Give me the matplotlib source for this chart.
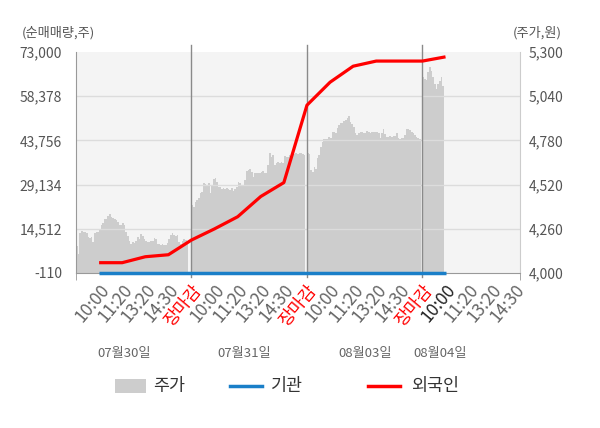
import numpy as np
import matplotlib
matplotlib.use("Agg")
import matplotlib.pyplot as plt
from matplotlib.lines import Line2D
from matplotlib.patches import Rectangle

plt.rcParams['font.family'] = ['Noto Sans CJK KR', 'DejaVu Sans']

# stock price (right axis), one list per trading day, sampled evenly through the day
price_day0 = [4156, 4113, 4238, 4246, 4244, 4242, 4235, 4211, 4205, 4211, 4185, 4235,
              4240, 4244, 4254, 4280, 4297, 4318, 4320, 4335, 4345, 4330, 4325, 4320,
              4312, 4300, 4280, 4283, 4293, 4280, 4240, 4220, 4190, 4172, 4180, 4178,
              4190, 4210, 4200, 4229, 4220, 4200, 4188, 4185, 4185, 4186, 4190, 4205,
              4200, 4172, 4170, 4166, 4170, 4162, 4166, 4176, 4200, 4225, 4235, 4225,
              4220, 4225, 4180, 4170, 4190, 4199, 4195, 4190, 4205]
price_day1 = [4401, 4387, 4420, 4430, 4440, 4469, 4479, 4531, 4524, 4518, 4528, 4469,
              4518, 4551, 4557, 4537, 4508, 4504, 4493, 4498, 4493, 4498, 4493, 4489,
              4498, 4485, 4493, 4504, 4537, 4528, 4518, 4518, 4547, 4602, 4606, 4610,
              4596, 4563, 4587, 4590, 4587, 4590, 4596, 4602, 4587, 4590, 4635, 4708,
              4684, 4694, 4635, 4645, 4655, 4645, 4655, 4649, 4688, 4680, 4684, 4694,
              4688, 4700, 4700, 4704, 4700, 4708, 4704, 4700, 4694, 4700]
price_day2 = [4704, 4700, 4606, 4596, 4625, 4610, 4675, 4694, 4743, 4772, 4786, 4786,
              4786, 4801, 4792, 4831, 4831, 4821, 4851, 4870, 4880, 4884, 4895, 4899,
              4909, 4923, 4890, 4875, 4860, 4821, 4811, 4821, 4831, 4831, 4821, 4821,
              4837, 4831, 4821, 4831, 4831, 4831, 4831, 4821, 4792, 4821, 4845, 4815,
              4801, 4798, 4805, 4801, 4805, 4805, 4821, 4792, 4786, 4792, 4792, 4811,
              4845, 4845, 4840, 4831, 4821, 4811, 4798, 4792, 4786, 4782]
price_day3 = [5150, 5140, 5134, 5180, 5212, 5190, 5150, 5110, 5080, 5114, 5130, 5150,
              5100, 5085]
price_days = [price_day0, price_day1, price_day2, price_day3]
samples_per_day = 70

# net buying (left axis), one value per time label
foreign = [3300, 3300, 5270, 5930, 10800, 14500, 18500, 25200, 29800, 55400,
           63000, 68300, 70000, 70000, 70000, 71400]
institution = [0, 0, 0, 0, 0, 0, 0, 0, 0, 0, 0, 0, 0, 0, 0, 0]

time_labels = ['10:00', '11:20', '13:20', '14:30', '장마감']
last_day_labels = ['10:00', '11:20', '13:20', '14:30']
dates = ['07월30일', '07월31일', '08월03일', '08월04일']
date_pos = [0.42, 1.46, 2.50, 3.15]

left_ticks = [-110, 14512, 29134, 43756, 58378, 73000]
right_ticks = [4000, 4260, 4520, 4780, 5040, 5300]

fig = plt.figure(figsize=(6, 4.28), dpi=100)
ax2 = fig.add_axes([76 / 600, 1 - 273 / 428, 444 / 600, 221 / 428])
ax = ax2.twinx()
ax.set_zorder(ax2.get_zorder() + 1)
ax.patch.set_visible(False)
ax2.set_facecolor('#f4f4f4')

# price area
for d, prices in enumerate(price_days):
    xs = d + np.arange(len(prices)) / samples_per_day
    ax2.fill_between(xs, 4000, prices, color='#cdcdcd', lw=0, step='post')

# label positions: 5 per full day, 4 on the last day
tick_pos = []
tick_lab = []
for d in range(3):
    for k, lab in enumerate(time_labels):
        tick_pos.append(d + (k + 1) / 5)
        tick_lab.append(lab)
for k, lab in enumerate(last_day_labels):
    tick_pos.append(3 + (k + 1) / 5)
    tick_lab.append(lab)

line_x = tick_pos[:len(foreign)]
ax.plot(line_x, institution, color='#1a7fc8', lw=2.5, solid_capstyle='butt',
        clip_on=False, zorder=3)
ax.plot(line_x, foreign, color='#ff0000', lw=2.3, solid_capstyle='butt', zorder=4)

xmax = 3.845
ax.set_xlim(0, xmax)
ax.set_ylim(-110, 73000)
ax2.set_ylim(4000, 5300)

# twinx puts the price axis on the right; swap so volume is left, price right
ax.yaxis.set_label_position('left')
ax.yaxis.tick_left()
ax2.yaxis.set_label_position('right')
ax2.yaxis.tick_right()
ax.xaxis.set_visible(True)
ax2.xaxis.set_visible(False)

for v in left_ticks[1:-1]:
    ax.axhline(v, color='#dcdcdc', lw=1, zorder=0.5)
for d in [1, 2, 3]:
    ax.axvline(d, ymin=-0.02, ymax=1.03, color='#8a8a8a', lw=1, clip_on=False)

ax.set_yticks(left_ticks)
ax.set_yticklabels([f'{v:,}' for v in left_ticks])
ax2.set_yticks(right_ticks)
ax2.set_yticklabels([f'{v:,}' for v in right_ticks])
ax.tick_params(axis='y', length=0, pad=10, labelsize=10, labelcolor='#555555')
ax2.tick_params(axis='y', length=0, pad=6, labelsize=10, labelcolor='#555555')

ax.set_xticks(tick_pos)
ax.set_xticklabels(tick_lab, rotation=50, ha='right', rotation_mode='anchor')
ax.set_xticks([0, 1, 2, 3, xmax], minor=True)
ax.tick_params(axis='x', which='major', length=0, pad=6, labelsize=12.5)
ax.tick_params(axis='x', which='minor', length=5, color='#999999')
for i, t in enumerate(ax.get_xticklabels()):
    if t.get_text() == '장마감':
        t.set_color('#ff0000')
    elif i == 15:
        t.set_color('#222222')
    else:
        t.set_color('#666666')

ax.spines['top'].set_visible(False)
ax2.spines['top'].set_visible(False)
ax.spines['left'].set_color('#999999')
ax.spines['bottom'].set_color('#999999')
ax.spines['right'].set_color('#cccccc')
ax2.spines['left'].set_visible(False)
ax2.spines['right'].set_visible(False)
ax2.spines['bottom'].set_visible(False)

for p, lab in zip(date_pos, dates):
    ax.text(p, -0.362, lab, transform=ax.get_xaxis_transform(), ha='center',
            va='center', fontsize=9.5, color='#666666')

fig.text(22 / 600, 1 - 33 / 428, '(순매매량,주)', ha='left', va='center',
         fontsize=9.5, color='#555555')
fig.text(562 / 600, 1 - 33 / 428, '(주가,원)', ha='right', va='center',
         fontsize=9.5, color='#555555')

# legend
ly = 1 - 386 / 428
fig.add_artist(Rectangle((115 / 600, ly - 7 / 428), 31 / 600, 14 / 428,
                         transform=fig.transFigure, color='#cdcdcd', lw=0))
fig.add_artist(Line2D([230 / 600, 262 / 600], [ly, ly], transform=fig.transFigure,
                      color='#1a7fc8', lw=2.5))
fig.add_artist(Line2D([368 / 600, 400 / 600], [ly, ly], transform=fig.transFigure,
                      color='#ff0000', lw=2.5))
for xp, lab in [(153, '주가'), (271, '기관'), (411, '외국인')]:
    fig.text(xp / 600, ly, lab, ha='left', va='center', fontsize=12.5, color='#333333')

fig.savefig('out.png', dpi=100)
